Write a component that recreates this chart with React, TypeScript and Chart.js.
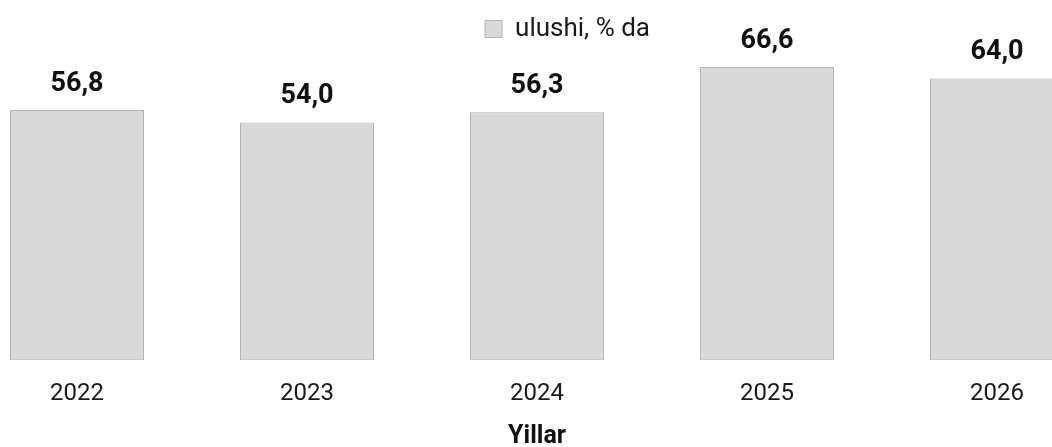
import React, { useEffect, useRef } from "react";
import { Chart, registerables } from "chart.js";

Chart.register(...registerables);

const categories: string[] = ["2022", "2023", "2024", "2025", "2026"];
const shareValues: number[] = [56.8, 54.0, 56.3, 66.6, 64.0];
const seriesLabel = "ulushi, % da";
const axisTitle = "Yillar";
const yMin = 0;
const yMax = 70;

const FONT = "Roboto, 'Noto Sans', sans-serif";

const valueLabels = {
  id: "valueLabels",
  afterDatasetsDraw(chart: any) {
    const { ctx } = chart;
    const meta = chart.getDatasetMeta(0);
    const data = chart.data.datasets[0].data as number[];
    ctx.save();
    ctx.font = `bold 27px ${FONT}`;
    ctx.fillStyle = "#111";
    ctx.textAlign = "center";
    ctx.textBaseline = "middle";
    meta.data.forEach((bar: any, i: number) => {
      const txt = data[i].toFixed(1).replace(".", ",");
      ctx.fillText(txt, bar.x, bar.y - 26);
    });
    ctx.restore();
  },
};

export default function App() {
  const ref = useRef<HTMLCanvasElement | null>(null);

  useEffect(() => {
    if (!ref.current) return;
    const chart = new Chart(ref.current, {
      type: "bar",
      data: {
        labels: categories,
        datasets: [
          {
            label: seriesLabel,
            data: shareValues,
            backgroundColor: "#d9d9d9",
            borderColor: "#b3b3b3",
            borderWidth: 1,
            borderSkipped: false,
            categoryPercentage: 1,
            barPercentage: 134 / 230,
          },
        ],
      },
      options: {
        responsive: false,
        animation: false,
        layout: { padding: { top: 6, left: 0, right: 0, bottom: 0 } },
        plugins: {
          legend: {
            display: true,
            position: "top",
            labels: {
              boxWidth: 17,
              boxHeight: 17,
              padding: 10,
              color: "#1a1a1a",
              font: { family: FONT, size: 26 },
            },
          },
          tooltip: { enabled: false },
        },
        scales: {
          x: {
            grid: { display: false, drawTicks: false },
            border: { display: false },
            ticks: {
              color: "#1a1a1a",
              padding: 19,
              font: { family: FONT, size: 24 },
            },
            title: {
              display: true,
              text: axisTitle,
              color: "#111",
              padding: { top: 0, bottom: 0 },
              font: { family: FONT, size: 25, weight: "bold", lineHeight: 0.8 },
            },
          },
          y: {
            position: "right",
            min: yMin,
            max: yMax,
            grid: { display: false, drawTicks: false },
            border: { display: false },
            ticks: { display: false },
            afterFit: (s: any) => {
              s.width = 61;
            },
          },
        },
      },
      plugins: [valueLabels],
    });
    return () => chart.destroy();
  }, []);

  return (
    <div
      style={{
        position: "fixed",
        left: 0,
        top: 0,
        width: 1052,
        height: 447,
        overflow: "hidden",
        background: "#fff",
      }}
    >
      <canvas
        ref={ref}
        width={1211}
        height={447}
        style={{ position: "absolute", left: -38, top: 0, width: 1211, height: 447 }}
      />
    </div>
  );
}
